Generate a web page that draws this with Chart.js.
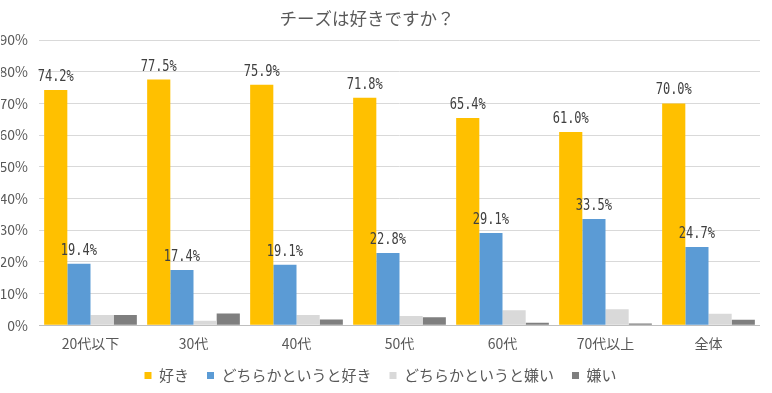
<!DOCTYPE html>
<html>
<head>
<meta charset="utf-8">
<script src="https://cdn.jsdelivr.net/npm/chart.js@4"></script>
<style>
    html, body { margin: 0; padding: 0; background: #fff; }
    #wrap { width: 772px; height: 393px; }
</style>
</head>
<body>
<div id="wrap"><canvas id="chart"></canvas></div>
<script>
// 年代別カテゴリ
const categories = ["20代以下", "30代", "40代", "50代", "60代", "70代以上", "全体"];

// 各回答の割合 (%)
const suki = [74.2, 77.5, 75.9, 71.8, 65.4, 61.0, 70.0];
const dochiraSuki = [19.4, 17.4, 19.1, 22.8, 29.1, 33.5, 24.7];
const dochiraKirai = [3.2, 1.4, 3.2, 2.9, 4.7, 5.0, 3.6];
const kirai = [3.2, 3.7, 1.8, 2.5, 0.8, 0.5, 1.7];

const yTicks = [0, 10, 20, 30, 40, 50, 60, 70, 80, 90];

const chartTitle = "チーズは好きですか？";

const JP_FONT = "'Noto Sans CJK JP', 'Noto Sans', sans-serif";

// 好き / どちらかというと好き だけにラベルを付ける
const valueLabels = {
    id: "valueLabels",
    afterDatasetsDraw(chart) {
        const ctx = chart.ctx;
        ctx.save();
        ctx.fillStyle = "#404040";
        ctx.font = "15px 'DejaVu Sans Mono', monospace";
        ctx.textAlign = "center";
        ctx.textBaseline = "alphabetic";
        [0, 1].forEach(di => {
            const meta = chart.getDatasetMeta(di);
            meta.data.forEach((bar, i) => {
                const txt = chart.data.datasets[di].data[i].toFixed(1) + "%";
                ctx.save();
                ctx.translate(bar.x, bar.y - 9);
                ctx.scale(0.8, 1);
                ctx.fillText(txt, 0, 0);
                ctx.restore();
            });
        });
        ctx.restore();
    }
};

// タイトルは少し左寄りなので自前で描く
const titlePlugin = {
    id: "titlePlugin",
    afterDraw(chart) {
        const ctx = chart.ctx;
        ctx.save();
        ctx.fillStyle = "#595959";
        ctx.font = "17.5px " + JP_FONT;
        ctx.textAlign = "center";
        ctx.textBaseline = "middle";
        ctx.fillText(chartTitle, 367, 18);
        ctx.restore();
    }
};

document.addEventListener("DOMContentLoaded", () => {
    const el = document.getElementById("chart");

    new Chart(el, {
        type: "bar",
        data: {
            labels: categories,
            datasets: [
                { label: "好き", data: suki, backgroundColor: "#FFC000" },
                { label: "どちらかというと好き", data: dochiraSuki, backgroundColor: "#5B9BD5" },
                { label: "どちらかというと嫌い", data: dochiraKirai, backgroundColor: "#D9D9D9" },
                { label: "嫌い", data: kirai, backgroundColor: "#7F7F7F" }
            ]
        },
        options: {
            responsive: true,
            maintainAspectRatio: false,
            animation: false,
            layout: { padding: { left: 1, right: 12, top: 40, bottom: 0 } },
            datasets: {
                bar: { categoryPercentage: 0.9, barPercentage: 1.0 }
            },
            plugins: {
                title: { display: false },
                legend: {
                    position: "bottom",
                    labels: {
                        color: "#595959",
                        font: { family: JP_FONT, size: 15 },
                        boxWidth: 7,
                        boxHeight: 7,
                        padding: 18
                    }
                },
                tooltip: { enabled: false }
            },
            scales: {
                x: {
                    grid: { display: false },
                    border: { display: false },
                    ticks: {
                        color: "#595959",
                        font: { family: JP_FONT, size: 14 },
                        padding: 2
                    },
                    afterFit: axis => { axis.height -= 4; }
                },
                y: {
                    min: 0,
                    max: 90,
                    afterBuildTicks: axis => {
                        axis.ticks = yTicks.map(v => ({ value: v }));
                    },
                    afterFit: axis => { axis.width = 38; },
                    grid: {
                        color: ctx => ctx.tick && ctx.tick.value === 0 ? "#BFBFBF" : "#D9D9D9",
                        drawTicks: false
                    },
                    border: { display: false },
                    ticks: {
                        color: "#595959",
                        font: { family: JP_FONT, size: 14 },
                        padding: 11,
                        callback: v => v + "%"
                    }
                }
            }
        },
        plugins: [valueLabels, titlePlugin]
    });
});
</script>
</body>
</html>
